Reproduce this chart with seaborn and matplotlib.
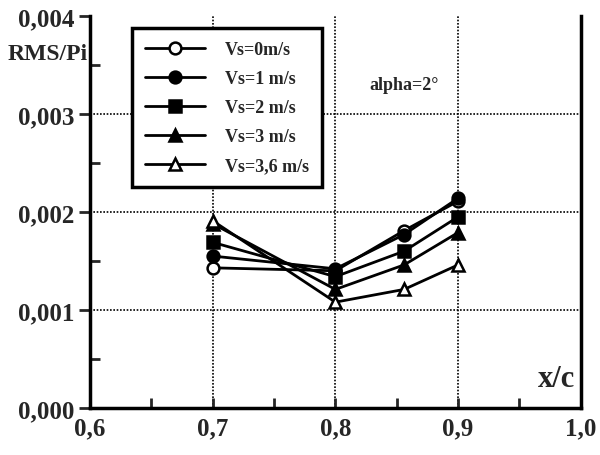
import matplotlib
matplotlib.use("Agg")
import matplotlib.pyplot as plt
import seaborn as sns
import pandas as pd
from matplotlib.ticker import MultipleLocator, FuncFormatter

sns.set_theme(style="white")
plt.rcParams['font.family'] = ['Liberation Serif', 'DejaVu Serif']
plt.rcParams['font.weight'] = 'bold'

x_c = [0.7, 0.8, 0.856, 0.9]
vs0 = [0.00143, 0.00140, 0.00181, 0.00211]
vs1 = [0.00155, 0.00142, 0.00177, 0.00214]
vs2 = [0.00169, 0.00134, 0.00160, 0.00195]
vs3 = [0.00188, 0.00121, 0.00146, 0.00179]
vs36 = [0.00191, 0.00108, 0.00121, 0.00146]
labels = ["Vs=0m/s", "Vs=1 m/s", "Vs=2 m/s", "Vs=3 m/s", "Vs=3,6 m/s"]
markers = ["o", "o", "s", "^", "^"]
faces = ["white", "black", "black", "black", "white"]

series = [vs0, vs1, vs2, vs3, vs36]

fig = plt.figure(figsize=(6, 4.56), dpi=100)
ax = fig.add_axes([0.15, 0.103, 0.818, 0.86])

for lab, vals, m, fc in zip(labels, series, markers, faces):
    df = pd.DataFrame({"x": x_c, "y": vals})
    sns.lineplot(data=df, x="x", y="y", ax=ax, color="black", lw=2,
                 marker=m, markersize=8.5, markerfacecolor=fc,
                 markeredgecolor="black", markeredgewidth=1.8, label=lab)

ax.set_xlim(0.6, 1.0)
ax.set_ylim(0.0, 0.004)
ax.xaxis.set_major_locator(MultipleLocator(0.1))
ax.xaxis.set_minor_locator(MultipleLocator(0.05))
ax.yaxis.set_major_locator(MultipleLocator(0.001))
ax.yaxis.set_minor_locator(MultipleLocator(0.0005))
ax.xaxis.set_major_formatter(FuncFormatter(lambda v, p: f"{v:.1f}".replace(".", ",")))
ax.yaxis.set_major_formatter(FuncFormatter(lambda v, p: f"{v:.3f}".replace(".", ",")))

ax.grid(True, which="major", linestyle=(0, (1, 1)), color="black", lw=1.2)
fig.canvas.draw()
for gl in ax.get_ygridlines():
    if abs(gl.get_ydata()[0] - 0.004) < 1e-9:
        gl.set_visible(False)

ax.tick_params(axis="x", which="both", direction="in", length=7, width=2,
               labelsize=18, pad=6)
ax.tick_params(axis="y", which="major", direction="out", length=8, width=2,
               labelsize=18, left=True, pad=3)
ax.tick_params(axis="y", which="minor", direction="in", length=7, width=2, left=True)
ax.tick_params(axis="x", which="both", bottom=True)
for lbl in ax.get_xticklabels() + ax.get_yticklabels():
    lbl.set_fontweight("bold")

for s in ["left", "bottom", "right"]:
    ax.spines[s].set_visible(True)
    ax.spines[s].set_color("black")
    ax.spines[s].set_linewidth(2.5)
ax.spines["top"].set_visible(False)

ax.set_xlabel("")
ax.set_ylabel("")
fig.text(0.013, 0.88, "RMS/Pi", fontsize=17, fontweight="bold", ha="left", va="center")
fig.text(0.958, 0.168, "x/c", fontsize=22, fontweight="bold", ha="right", va="center")
ax.text(0.828, 0.0033, "alpha=2°", fontsize=13, fontweight="bold", ha="left", va="center")

leg = ax.legend(loc="upper left", bbox_to_anchor=(0.085, 0.97), frameon=True,
                fancybox=False, edgecolor="black", facecolor="white", framealpha=1,
                prop={"family": "Liberation Serif", "weight": "bold", "size": 13},
                handlelength=3.3, labelspacing=0.66, borderpad=0.75, handletextpad=1.1,
                borderaxespad=0)
leg.get_frame().set_linewidth(2.5)
leg.set_zorder(5)

fig.savefig("out.png", dpi=100, facecolor="white")
